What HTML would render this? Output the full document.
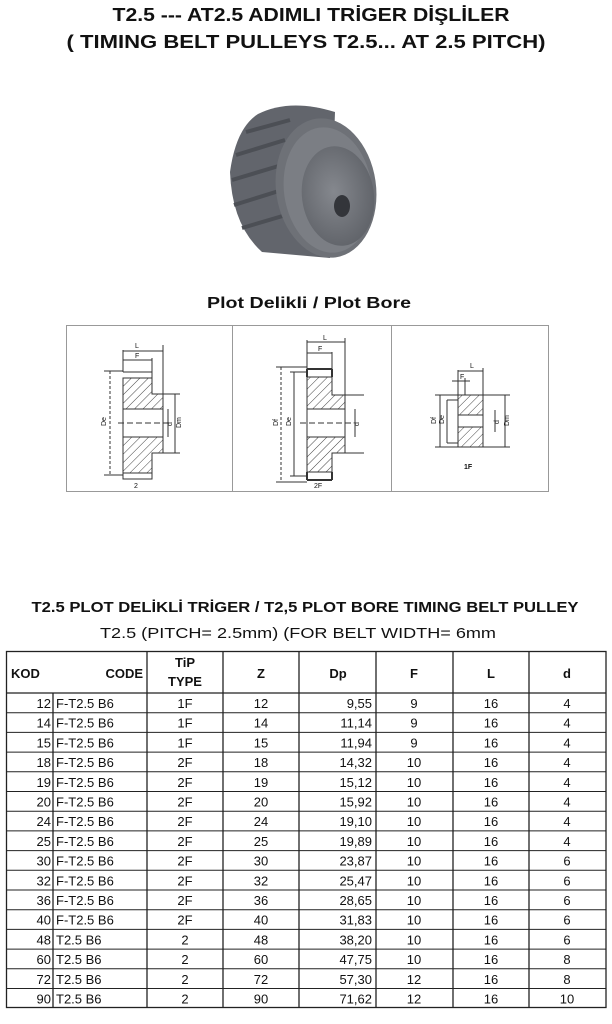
<!DOCTYPE html>
<html><head><meta charset="utf-8"><style>
html,body{margin:0;padding:0;background:#fff;}
svg{display:block;}
text{font-family:"Liberation Sans",sans-serif;fill:#111;}
</style></head><body>
<svg width="612" height="1024" viewBox="0 0 612 1024" xmlns="http://www.w3.org/2000/svg">
<defs>
<pattern id="h" width="6" height="6" patternUnits="userSpaceOnUse" patternTransform="rotate(45)">
<rect width="6" height="6" fill="#fff"/><line x1="0" y1="0" x2="0" y2="6" stroke="#444" stroke-width="1"/></pattern>
<radialGradient id="g1" cx="0.45" cy="0.45" r="0.6"><stop offset="0" stop-color="#85888e"/><stop offset="1" stop-color="#5f6268"/></radialGradient>
</defs>
<text x="311" y="21" text-anchor="middle" font-size="18" font-weight="bold" textLength="397" lengthAdjust="spacingAndGlyphs">T2.5 --- AT2.5 ADIMLI TRİGER DİŞLİLER</text>
<text x="306" y="48" text-anchor="middle" font-size="18" font-weight="bold" textLength="479" lengthAdjust="spacingAndGlyphs">( TIMING BELT PULLEYS   T2.5... AT 2.5 PITCH)</text>

<g>
<path d="M258,114 Q290,98 335,112 L330,258 L262,252 Q232,225 230,172 Q236,128 258,114 Z" fill="#62656c"/>
<g stroke="#4c4f55" stroke-width="4" fill="none">
<path d="M246,132 L290,120"/><path d="M236,155 L285,140"/><path d="M232,180 L282,165"/><path d="M234,205 L282,190"/><path d="M242,228 L286,215"/>
</g>
<ellipse cx="326" cy="188" rx="50" ry="70" fill="#6e7177" transform="rotate(-8 326 188)"/>
<ellipse cx="328" cy="190" rx="44" ry="63" fill="#7b7e84" transform="rotate(-8 328 190)"/>
<ellipse cx="338" cy="196" rx="36" ry="50" fill="url(#g1)" transform="rotate(-8 338 196)"/>
<ellipse cx="342" cy="206" rx="8" ry="11" fill="#33353a"/>
</g>

<text x="309" y="308" text-anchor="middle" font-size="16" font-weight="bold" textLength="204" lengthAdjust="spacingAndGlyphs">Plot Delikli / Plot Bore</text>

<rect x="66.5" y="325.5" width="482" height="166" fill="#fff" stroke="#999" stroke-width="1"/>
<line x1="232.5" y1="325" x2="232.5" y2="491" stroke="#999"/>
<line x1="391.5" y1="325" x2="391.5" y2="491" stroke="#999"/>

<g stroke="#333" stroke-width="1" fill="none">
<path d="M123,378 H152 V394 H163 V453 H152 V473 H123 Z" fill="url(#h)"/>
<rect x="123" y="409" width="40" height="28" fill="#fff"/>
<path d="M123,372 H152 V378 M123,473 V479 H152 V473"/>
<line x1="110" y1="371" x2="110" y2="475" stroke-dasharray="3,2"/>
<line x1="104" y1="371" x2="123" y2="371"/><line x1="104" y1="475" x2="123" y2="475"/>
<line x1="175" y1="394" x2="175" y2="453"/><line x1="163" y1="394" x2="180" y2="394"/><line x1="163" y1="453" x2="180" y2="453"/>
<line x1="168" y1="409" x2="168" y2="437"/>
<line x1="118" y1="423" x2="170" y2="423" stroke-dasharray="6,3"/>
<line x1="123" y1="350" x2="123" y2="372"/><line x1="163" y1="345" x2="163" y2="394"/><line x1="152" y1="358" x2="152" y2="372"/>
<line x1="123" y1="351" x2="163" y2="351"/><line x1="123" y1="360" x2="152" y2="360"/>
<path d="M307,377 H332 V395 H345 V453 H332 V472 H307 Z" fill="url(#h)"/>
<rect x="307" y="409" width="38" height="28" fill="#fff"/>
<path d="M307,369 H332 M307,480 H332" stroke-width="2"/>
<line x1="307" y1="369" x2="307" y2="377" stroke-width="2"/><line x1="332" y1="369" x2="332" y2="377" stroke-width="2"/>
<line x1="307" y1="472" x2="307" y2="480" stroke-width="2"/><line x1="332" y1="472" x2="332" y2="480" stroke-width="2"/>
<line x1="281" y1="367" x2="281" y2="482" stroke-dasharray="3,2"/><line x1="276" y1="367" x2="307" y2="367"/><line x1="276" y1="482" x2="307" y2="482"/>
<line x1="294" y1="372" x2="294" y2="476"/><line x1="290" y1="372" x2="307" y2="372"/><line x1="290" y1="476" x2="307" y2="476"/>
<line x1="345" y1="395" x2="364" y2="395"/><line x1="345" y1="453" x2="364" y2="453"/>
<line x1="355" y1="409" x2="355" y2="437"/>
<line x1="300" y1="423" x2="352" y2="423" stroke-dasharray="6,3"/>
<line x1="307" y1="340" x2="307" y2="369"/><line x1="345" y1="338" x2="345" y2="395"/><line x1="332" y1="352" x2="332" y2="369"/>
<line x1="307" y1="342" x2="345" y2="342"/><line x1="307" y1="353" x2="332" y2="353"/>
<path d="M458,395 H483 V447 H458 Z" fill="url(#h)"/>
<rect x="458" y="415" width="25" height="12" fill="#fff"/>
<line x1="435" y1="395" x2="458" y2="395"/><line x1="435" y1="447" x2="458" y2="447"/>
<line x1="440" y1="395" x2="440" y2="447"/>
<line x1="447" y1="400" x2="447" y2="443"/><line x1="447" y1="400" x2="458" y2="400"/><line x1="447" y1="443" x2="458" y2="443"/>
<line x1="483" y1="395" x2="510" y2="395"/><line x1="483" y1="447" x2="510" y2="447"/><line x1="505" y1="395" x2="505" y2="447"/>
<line x1="495" y1="410" x2="495" y2="432"/>
<line x1="458" y1="370" x2="458" y2="395"/><line x1="483" y1="368" x2="483" y2="395"/><line x1="465" y1="378" x2="465" y2="395"/>
<line x1="458" y1="371" x2="483" y2="371"/><line x1="452" y1="381" x2="470" y2="381"/>
</g>
<g font-size="7" fill="#333">
<text x="135" y="348">L</text><text x="135" y="358">F</text>
<text x="106" y="426" transform="rotate(-90 106 426)">De</text>
<text x="181" y="428" transform="rotate(-90 181 428)">Dm</text>
<text x="172" y="426" transform="rotate(-90 172 426)">d</text>
<text x="134" y="488">2</text>
<text x="323" y="340">L</text><text x="318" y="351">F</text>
<text x="278" y="426" transform="rotate(-90 278 426)">Df</text>
<text x="291" y="426" transform="rotate(-90 291 426)">De</text>
<text x="359" y="426" transform="rotate(-90 359 426)">d</text>
<text x="314" y="488">2F</text>
<text x="470" y="368">L</text><text x="460" y="379">F</text>
<text x="436" y="424" transform="rotate(-90 436 424)">Df</text>
<text x="444" y="424" transform="rotate(-90 444 424)">De</text>
<text x="499" y="424" transform="rotate(-90 499 424)">d</text>
<text x="509" y="426" transform="rotate(-90 509 426)">Dm</text>
<text x="464" y="469" font-weight="bold">1F</text>
</g>

<text x="305" y="612" text-anchor="middle" font-size="15" font-weight="bold" textLength="547" lengthAdjust="spacingAndGlyphs">T2.5 PLOT DELİKLİ TRİGER / T2,5 PLOT BORE TIMING BELT PULLEY</text>
<text x="298" y="638" text-anchor="middle" font-size="15" textLength="396" lengthAdjust="spacingAndGlyphs">T2.5 (PITCH= 2.5mm) (FOR BELT WIDTH= 6mm</text>

<g stroke="#222" stroke-width="1.3" fill="none">
<rect x="6.5" y="651.5" width="599.5" height="356"/>
<line x1="6" y1="693" x2="606" y2="693"/>
<line x1="147" y1="651" x2="147" y2="1008"/>
<line x1="223" y1="651" x2="223" y2="1008"/>
<line x1="299" y1="651" x2="299" y2="1008"/>
<line x1="376" y1="651" x2="376" y2="1008"/>
<line x1="453" y1="651" x2="453" y2="1008"/>
<line x1="529" y1="651" x2="529" y2="1008"/>
<line x1="53" y1="693" x2="53" y2="1008"/>
</g>
<g stroke="#222" stroke-width="1">
<line x1="6" y1="712.7" x2="606" y2="712.7"/><line x1="6" y1="732.4" x2="606" y2="732.4"/><line x1="6" y1="752.1" x2="606" y2="752.1"/><line x1="6" y1="771.8" x2="606" y2="771.8"/><line x1="6" y1="791.5" x2="606" y2="791.5"/><line x1="6" y1="811.2" x2="606" y2="811.2"/><line x1="6" y1="830.9" x2="606" y2="830.9"/><line x1="6" y1="850.6" x2="606" y2="850.6"/><line x1="6" y1="870.3" x2="606" y2="870.3"/><line x1="6" y1="890" x2="606" y2="890"/><line x1="6" y1="909.7" x2="606" y2="909.7"/><line x1="6" y1="929.4" x2="606" y2="929.4"/><line x1="6" y1="949.1" x2="606" y2="949.1"/><line x1="6" y1="968.8" x2="606" y2="968.8"/><line x1="6" y1="988.5" x2="606" y2="988.5"/>
</g>
<g font-size="13" font-weight="bold">
<text x="11" y="678">KOD</text>
<text x="143" y="678" text-anchor="end">CODE</text>
<text x="185" y="667" text-anchor="middle">TiP</text>
<text x="185" y="686" text-anchor="middle">TYPE</text>
<text x="261" y="678" text-anchor="middle">Z</text>
<text x="338" y="678" text-anchor="middle">Dp</text>
<text x="414" y="678" text-anchor="middle">F</text>
<text x="491" y="678" text-anchor="middle">L</text>
<text x="567" y="678" text-anchor="middle">d</text>
</g>
<g font-size="13">
<g text-anchor="end">
<text x="51" y="708">12</text><text x="51" y="727.7">14</text><text x="51" y="747.4">15</text><text x="51" y="767.1">18</text><text x="51" y="786.8">19</text><text x="51" y="806.5">20</text><text x="51" y="826.2">24</text><text x="51" y="845.9">25</text><text x="51" y="865.6">30</text><text x="51" y="885.3">32</text><text x="51" y="905">36</text><text x="51" y="924.7">40</text><text x="51" y="944.4">48</text><text x="51" y="964.1">60</text><text x="51" y="983.8">72</text><text x="51" y="1003.5">90</text>
<text x="372" y="708">9,55</text><text x="372" y="727.7">11,14</text><text x="372" y="747.4">11,94</text><text x="372" y="767.1">14,32</text><text x="372" y="786.8">15,12</text><text x="372" y="806.5">15,92</text><text x="372" y="826.2">19,10</text><text x="372" y="845.9">19,89</text><text x="372" y="865.6">23,87</text><text x="372" y="885.3">25,47</text><text x="372" y="905">28,65</text><text x="372" y="924.7">31,83</text><text x="372" y="944.4">38,20</text><text x="372" y="964.1">47,75</text><text x="372" y="983.8">57,30</text><text x="372" y="1003.5">71,62</text>
</g>
<g>
<text x="56" y="708">F-T2.5 B6</text><text x="56" y="727.7">F-T2.5 B6</text><text x="56" y="747.4">F-T2.5 B6</text><text x="56" y="767.1">F-T2.5 B6</text><text x="56" y="786.8">F-T2.5 B6</text><text x="56" y="806.5">F-T2.5 B6</text><text x="56" y="826.2">F-T2.5 B6</text><text x="56" y="845.9">F-T2.5 B6</text><text x="56" y="865.6">F-T2.5 B6</text><text x="56" y="885.3">F-T2.5 B6</text><text x="56" y="905">F-T2.5 B6</text><text x="56" y="924.7">F-T2.5 B6</text><text x="56" y="944.4">T2.5 B6</text><text x="56" y="964.1">T2.5 B6</text><text x="56" y="983.8">T2.5 B6</text><text x="56" y="1003.5">T2.5 B6</text>
</g>
<g text-anchor="middle">
<text x="185" y="708">1F</text><text x="185" y="727.7">1F</text><text x="185" y="747.4">1F</text><text x="185" y="767.1">2F</text><text x="185" y="786.8">2F</text><text x="185" y="806.5">2F</text><text x="185" y="826.2">2F</text><text x="185" y="845.9">2F</text><text x="185" y="865.6">2F</text><text x="185" y="885.3">2F</text><text x="185" y="905">2F</text><text x="185" y="924.7">2F</text><text x="185" y="944.4">2</text><text x="185" y="964.1">2</text><text x="185" y="983.8">2</text><text x="185" y="1003.5">2</text>
<text x="261" y="708">12</text><text x="261" y="727.7">14</text><text x="261" y="747.4">15</text><text x="261" y="767.1">18</text><text x="261" y="786.8">19</text><text x="261" y="806.5">20</text><text x="261" y="826.2">24</text><text x="261" y="845.9">25</text><text x="261" y="865.6">30</text><text x="261" y="885.3">32</text><text x="261" y="905">36</text><text x="261" y="924.7">40</text><text x="261" y="944.4">48</text><text x="261" y="964.1">60</text><text x="261" y="983.8">72</text><text x="261" y="1003.5">90</text>
<text x="414" y="708">9</text><text x="414" y="727.7">9</text><text x="414" y="747.4">9</text><text x="414" y="767.1">10</text><text x="414" y="786.8">10</text><text x="414" y="806.5">10</text><text x="414" y="826.2">10</text><text x="414" y="845.9">10</text><text x="414" y="865.6">10</text><text x="414" y="885.3">10</text><text x="414" y="905">10</text><text x="414" y="924.7">10</text><text x="414" y="944.4">10</text><text x="414" y="964.1">10</text><text x="414" y="983.8">12</text><text x="414" y="1003.5">12</text>
<text x="491" y="708">16</text><text x="491" y="727.7">16</text><text x="491" y="747.4">16</text><text x="491" y="767.1">16</text><text x="491" y="786.8">16</text><text x="491" y="806.5">16</text><text x="491" y="826.2">16</text><text x="491" y="845.9">16</text><text x="491" y="865.6">16</text><text x="491" y="885.3">16</text><text x="491" y="905">16</text><text x="491" y="924.7">16</text><text x="491" y="944.4">16</text><text x="491" y="964.1">16</text><text x="491" y="983.8">16</text><text x="491" y="1003.5">16</text>
<text x="567" y="708">4</text><text x="567" y="727.7">4</text><text x="567" y="747.4">4</text><text x="567" y="767.1">4</text><text x="567" y="786.8">4</text><text x="567" y="806.5">4</text><text x="567" y="826.2">4</text><text x="567" y="845.9">4</text><text x="567" y="865.6">6</text><text x="567" y="885.3">6</text><text x="567" y="905">6</text><text x="567" y="924.7">6</text><text x="567" y="944.4">6</text><text x="567" y="964.1">8</text><text x="567" y="983.8">8</text><text x="567" y="1003.5">10</text>
</g>
</g>
</svg>
</body></html>
